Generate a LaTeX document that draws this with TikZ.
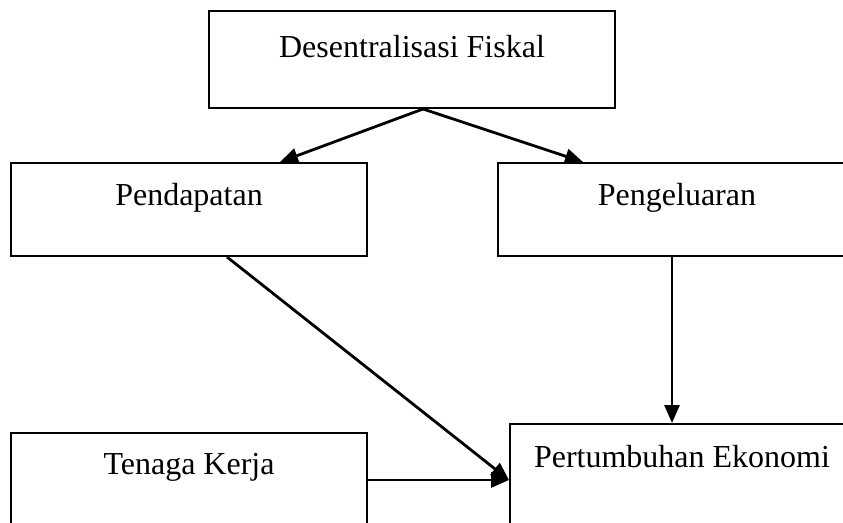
\documentclass[tikz,border=0pt]{standalone}
\usepackage{fontspec}
\setmainfont{Liberation Serif}
\usepackage{tikz}
\usetikzlibrary{arrows.meta, positioning, calc}

\begin{document}
\begin{tikzpicture}[x=1pt, y=-1pt, >={Triangle[length=18pt, width=15pt]},
            box/.style={draw, rectangle, line width=2pt, minimum height=93pt,
                        font=\fontsize{32}{38}\selectfont, text height=23pt, text depth=31pt},
            link/.style={->, line width=2.8pt}]

            \useasboundingbox (0,0) rectangle (843,522);
            \clip (0,0) rectangle (843,522);

            \node[box, minimum width=406pt, minimum height=97pt, text depth=27pt] (fiskal) at (412,59.5) {Desentralisasi Fiskal};
            \node[box, minimum width=356pt] (pendapatan) at (189,209.5) {Pendapatan};
            \node[box, minimum width=358pt] (pengeluaran) at (677,209.5) {Pengeluaran};
            \node[box, anchor=north, minimum width=356pt, minimum height=130pt, text depth=71pt] (tenaga) at (189,432) {Tenaga Kerja};
            \node[box, anchor=north, minimum width=344pt, minimum height=130pt, text depth=67pt] (ekonomi) at (682,423) {Pertumbuhan Ekonomi};

            \coordinate (masuk) at ([yshift=-57pt]ekonomi.north west);

            \draw[link] ([xshift=11pt]fiskal.south) -- ([xshift=91pt]pendapatan.north);
            \draw[link] ([xshift=11pt]fiskal.south) -- ([xshift=-94pt]pengeluaran.north);
            \draw[link] ([xshift=38pt]pendapatan.south) -- (masuk);
            \draw[link] ([xshift=-5pt]pengeluaran.south) -- ([xshift=-10pt]ekonomi.north);
            \draw[link] (tenaga.east |- masuk) -- (masuk);
        \end{tikzpicture}
\end{document}
